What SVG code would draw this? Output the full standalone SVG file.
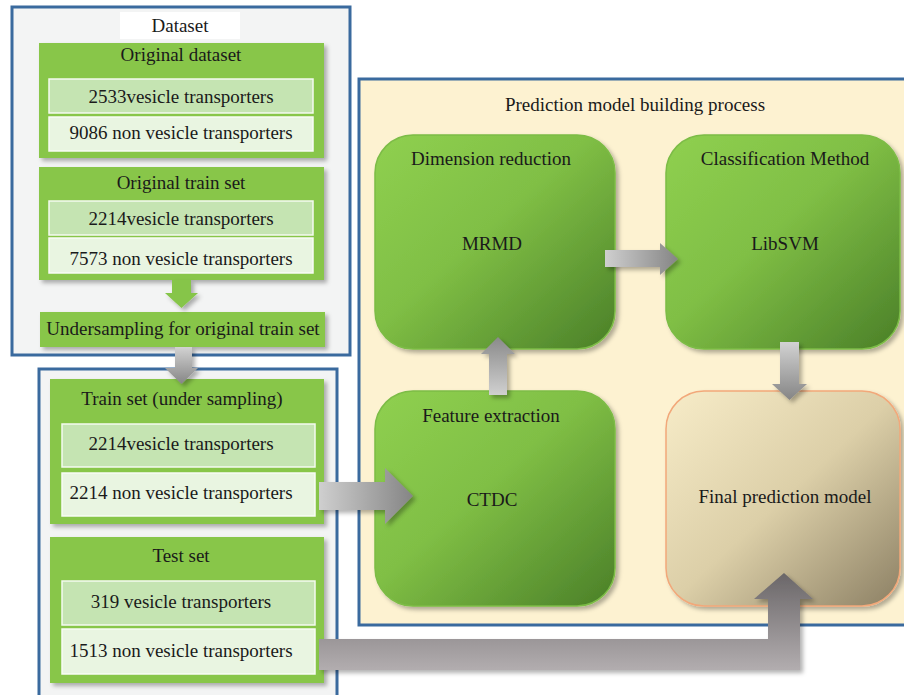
<svg xmlns="http://www.w3.org/2000/svg" width="904" height="695" viewBox="0 0 904 695">
<style>
text{font-family:"Liberation Serif","Times New Roman",Tinos,"Noto Serif","DejaVu Serif",Georgia,serif;font-size:19px;fill:#1a1a1a;text-anchor:middle}
.panel{fill:#f3f4f4;stroke:#3a6a9e;stroke-width:3}
.gbox{fill:#88c64a}
.r1{fill:#c5e4b2;stroke:#f4faf0;stroke-width:1.5}
.r2{fill:#e9f5e1;stroke:#f8fcf5;stroke-width:1.5}
.big{fill:url(#gg);stroke:#7cbc46;stroke-width:1.5}
</style>
<defs>
<linearGradient id="gg" x1="0" y1="0" x2="1" y2="1">
<stop offset="0" stop-color="#8fd050"/>
<stop offset="0.45" stop-color="#80bf45"/>
<stop offset="1" stop-color="#4a7f28"/>
</linearGradient>
<linearGradient id="fg" x1="0" y1="0" x2="1" y2="1">
<stop offset="0" stop-color="#f7ecc8"/>
<stop offset="0.5" stop-color="#dccfa8"/>
<stop offset="1" stop-color="#8c8064"/>
</linearGradient>
<linearGradient id="ah" x1="0" y1="0" x2="1" y2="0">
<stop offset="0" stop-color="#cfcfcf"/>
<stop offset="1" stop-color="#858585"/>
</linearGradient>
<linearGradient id="av" x1="0" y1="0" x2="0" y2="1">
<stop offset="0" stop-color="#d2d2d2"/>
<stop offset="1" stop-color="#858585"/>
</linearGradient>
<linearGradient id="au" x1="0" y1="1" x2="0" y2="0">
<stop offset="0" stop-color="#d0d0d0"/>
<stop offset="1" stop-color="#8a8a8a"/>
</linearGradient>
<linearGradient id="ab" gradientUnits="userSpaceOnUse" x1="0" y1="573" x2="0" y2="670">
<stop offset="0" stop-color="#6a6668"/>
<stop offset="1" stop-color="#b2adaf"/>
</linearGradient>
<filter id="sh" x="-10%" y="-10%" width="130%" height="130%">
<feDropShadow dx="3" dy="3" stdDeviation="2" flood-color="#000" flood-opacity="0.3"/>
</filter>
</defs>

<g id="dataset-panel">
<rect class="panel" x="12" y="7" width="338" height="348"/>
<rect x="120" y="12" width="120" height="27" fill="#ffffff"/>
<text x="180" y="32">Dataset</text>
</g>

<g id="original-dataset">
<rect class="gbox" x="39" y="43" width="285" height="115" filter="url(#sh)"/>
<text x="181" y="61">Original dataset</text>
<rect class="r1" x="49" y="79" width="264" height="34"/>
<text x="181" y="103">2533vesicle transporters</text>
<rect class="r2" x="49" y="117" width="264" height="34"/>
<text x="181" y="139">9086 non vesicle transporters</text>
</g>

<g id="original-train-set">
<rect class="gbox" x="39" y="167" width="285" height="113" filter="url(#sh)"/>
<text x="181" y="189">Original train set</text>
<rect class="r1" x="49" y="201" width="264" height="34"/>
<text x="181" y="225">2214vesicle transporters</text>
<rect class="r2" x="49" y="238" width="264" height="35"/>
<text x="181" y="265">7573 non vesicle transporters</text>
</g>

<g id="undersampling">
<rect class="gbox" x="40" y="312" width="285" height="35" filter="url(#sh)"/>
<text x="183" y="335">Undersampling for original train set</text>
</g>

<g id="train-test-panel">
<rect class="panel" x="39" y="369" width="298" height="340"/>
</g>

<g id="train-set">
<rect class="gbox" x="50" y="379" width="274" height="145" filter="url(#sh)"/>
<text x="182" y="405">Train set (under sampling)</text>
<rect class="r1" x="62" y="424" width="253" height="43"/>
<text x="181" y="450">2214vesicle transporters</text>
<rect class="r2" x="62" y="473" width="253" height="43"/>
<text x="181" y="499">2214 non vesicle transporters</text>
</g>

<g id="test-set">
<rect class="gbox" x="50" y="537" width="274" height="146" filter="url(#sh)"/>
<text x="181" y="562">Test set</text>
<rect class="r1" x="62" y="581" width="253" height="44"/>
<text x="181" y="608">319 vesicle transporters</text>
<rect class="r2" x="62" y="629" width="253" height="45"/>
<text x="181" y="657">1513 non vesicle transporters</text>
</g>

<g id="prediction-panel">
<rect x="359" y="79" width="560" height="546" fill="#fdf2d1" stroke="#3a6a9e" stroke-width="3"/>
<text x="635" y="111">Prediction model building process</text>
</g>

<g id="dimension-reduction">
<rect class="big" x="375" y="135" width="240" height="214" rx="38" filter="url(#sh)"/>
<text x="491" y="165">Dimension reduction</text>
<text x="492" y="250">MRMD</text>
</g>

<g id="classification-method">
<rect class="big" x="666" y="135" width="234" height="214" rx="38" filter="url(#sh)"/>
<text x="785" y="165">Classification Method</text>
<text x="785" y="250">LibSVM</text>
</g>

<g id="feature-extraction">
<rect class="big" x="375" y="391" width="240" height="215" rx="38" filter="url(#sh)"/>
<text x="491" y="422">Feature extraction</text>
<text x="492" y="506">CTDC</text>
</g>

<g id="final-prediction-model">
<rect x="666" y="391" width="234" height="215" rx="38" fill="url(#fg)" stroke="#f2a87a" stroke-width="1.5" filter="url(#sh)"/>
<text x="785" y="503">Final prediction model</text>
</g>

<g id="connectors" filter="url(#sh)">
<path d="M172,280 H191 V293 H198 L181.5,308 L165,293 H172 Z" fill="#86c54a"/>
<path d="M175,347 H192 V368 H198 L181.5,384 L165,368 H175 Z" fill="url(#av)"/>
<path d="M319,482 H385 V468 L413,496 L385,524 V510 H319 Z" fill="url(#ah)"/>
<path d="M605,250 H660 V243 L678,259 L660,275 V267 H605 Z" fill="url(#ah)"/>
<path d="M489,395 V354 H481 L498,337 L515,354 H507 V395 Z" fill="url(#au)"/>
<path d="M780,342 H799 V384 H807 L789.5,400 L772,384 H780 Z" fill="url(#av)"/>
<path d="M319,639 H768 V599 H754 L784,573 L813,599 H800 V670 H319 Z" fill="url(#ab)"/>
</g>
</svg>
